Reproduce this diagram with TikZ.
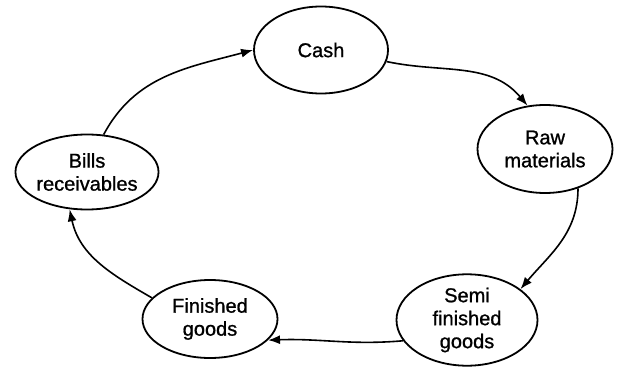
\documentclass[tikz,border=0pt]{standalone}
\usepackage{fontspec}
\setmainfont{Liberation Sans}
\newfontfamily\stagefont{Liberation Sans}[FakeBold=1]
\usetikzlibrary{shapes.geometric,arrows.meta}

\tikzset{
	stage/.style={ellipse, draw, line width=1.8pt, inner sep=0pt, align=center,
		font=\stagefont\fontsize{20}{23}\selectfont},
	flow/.style={line width=1.6pt, -{Latex[length=12pt,width=9pt]}}
}

\begin{document}
\begin{tikzpicture}[x=1pt, y=1pt]
	\useasboundingbox (0,0) rectangle (617,367);
	\node[stage, minimum width=134pt, minimum height=87pt] (cash) at (321,317) {Cash};
	\node[stage, minimum width=135pt, minimum height=88pt] (raw) at (545,218) {Raw\\materials};
	\node[stage, minimum width=141pt, minimum height=86pt] (semi) at (467,47) {Semi\\finished\\goods};
	\node[stage, minimum width=135pt, minimum height=78pt] (fin) at (210,48) {Finished\\goods};
	\node[stage, minimum width=132pt, minimum height=75pt] (bills) at (87,195) {Bills\\receivables};
	\draw[flow] (bills.66) to[out=62, in=195] (cash.west);
	\draw[flow] (cash.-10) to[out=-12, in=130] (raw.112);
	\draw[flow] (raw.-50) to[out=-90, in=50] (semi.30);
	\draw[flow] (semi.198) to[out=185, in=2] (fin.-20);
	\draw[flow] (fin.160) to[out=150, in=-78] (bills.-115);
\end{tikzpicture}
\end{document}
